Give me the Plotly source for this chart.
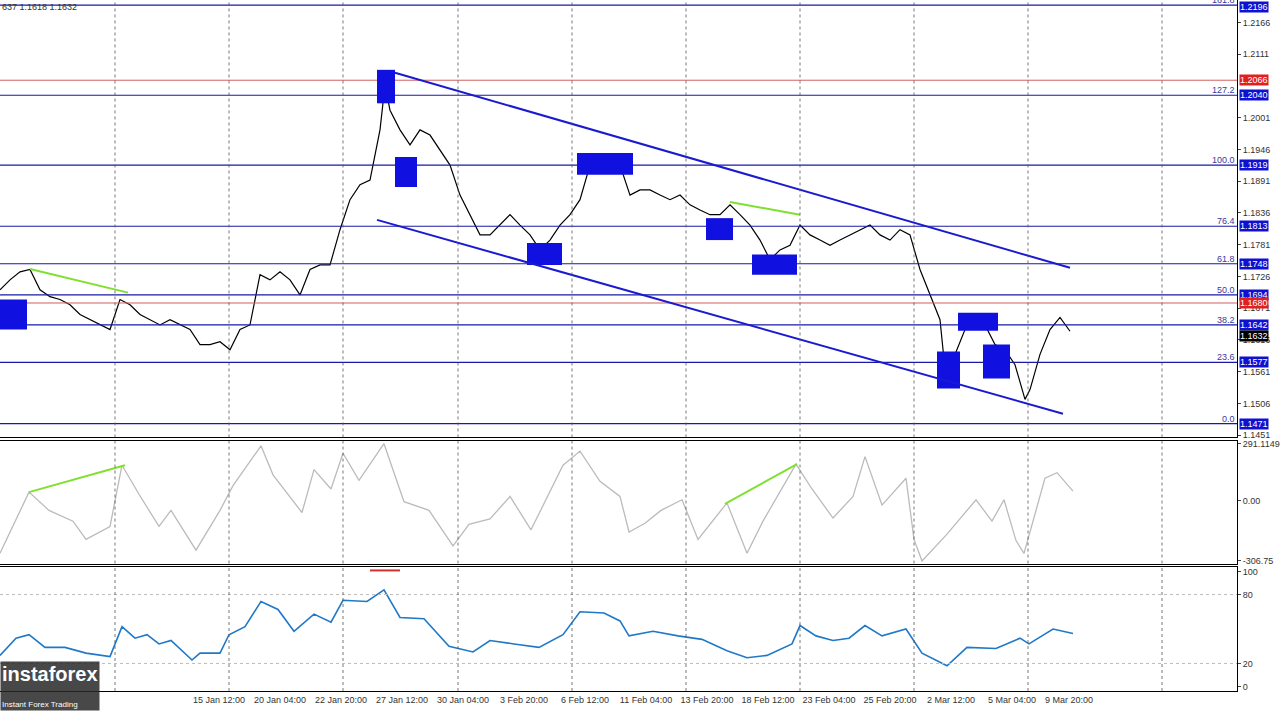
import plotly.graph_objects as go
from plotly.subplots import make_subplots

# ---- price path (time index in bar units, close price) ----
px_t = [0,10,20,30,40,50,60,70,80,90,100,110,120,130,140,150,160,170,180,190,200,210,220,230,240,250,260,270,280,290,300,310,320,330,340,350,360,370,380,385,390,400,410,420,430,440,450,460,470,480,490,500,510,520,530,540,550,560,570,580,590,600,610,620,630,640,650,660,670,680,690,700,710,720,730,740,750,760,770,780,790,800,810,820,830,840,850,860,870,880,890,900,910,920,930,940,945,955,965,975,985,995,1005,1015,1025,1030,1040,1050,1060,1070]
px_v = [1.1703,1.1720,1.1734,1.1738,1.1703,1.1691,1.1686,1.1677,1.1660,1.1651,1.1642,1.1634,1.1686,1.1677,1.1660,1.1651,1.1642,1.1651,1.1642,1.1634,1.1608,1.1608,1.1613,1.1599,1.1634,1.1642,1.1729,1.1720,1.1734,1.1720,1.1694,1.1738,1.1746,1.1746,1.1807,1.1859,1.1885,1.1893,1.1980,1.2058,1.2014,1.1980,1.1954,1.1980,1.1971,1.1945,1.1919,1.1867,1.1833,1.1798,1.1798,1.1815,1.1833,1.1815,1.1798,1.1772,1.1789,1.1815,1.1833,1.1859,1.1919,1.1919,1.1911,1.1919,1.1867,1.1876,1.1876,1.1867,1.1859,1.1867,1.1850,1.1841,1.1833,1.1833,1.1850,1.1833,1.1815,1.1789,1.1755,1.1772,1.1780,1.1815,1.1798,1.1789,1.1780,1.1789,1.1798,1.1807,1.1815,1.1798,1.1789,1.1807,1.1798,1.1738,1.1694,1.1651,1.1565,1.1591,1.1634,1.1651,1.1642,1.1608,1.1599,1.1573,1.1513,1.1530,1.1591,1.1634,1.1655,1.1631]

cci_t = [0,29,49,73,86,110,122,139,159,171,196,220,233,261,273,302,314,331,343,359,384,404,429,453,469,490,510,531,563,580,600,620,629,645,661,682,698,727,747,763,796,812,833,853,865,882,906,914,922,947,976,992,1004,1016,1024,1045,1057,1073]
cci_v = [-268,44,-49,-104,-197,-131,181,33,-131,-49,-252,-49,77,280,132,-60,159,60,242,104,291,-5,-49,-230,-120,-93,22,-148,181,253,99,22,-159,-115,-49,5,-197,-11,-268,-104,187,60,-88,22,225,-22,115,-197,-307,-170,5,-104,5,-203,-268,115,143,49]

st_t = [0,16,29,45,65,86,110,122,135,147,159,171,192,200,220,229,245,261,278,294,314,331,343,367,384,400,424,449,473,490,514,539,563,580,604,620,629,653,678,702,727,747,767,792,800,816,833,849,865,882,906,922,947,967,996,1020,1029,1053,1073]
st_v = [27,42,45,34,34,29,26,52,42,45,37,40,23,29,29,45,52,74,67,48,63,56,75,74,84,60,59,35,30,40,37,34,45,65,64,57,44,48,44,41,31,25,27,37,53,44,40,42,53,44,50,29,18,34,33,42,37,50,46]

fib_levels = [1.1471,1.1577,1.1642,1.1694,1.1748,1.1813,1.1919,1.2040,1.2196]
fib_names = ["0.0","23.6","38.2","50.0","61.8","76.4","100.0","127.2","161.8"]
red_levels = [1.2066,1.1680]
last_price = 1.1632
price_ticks = [1.1451,1.1506,1.1561,1.1616,1.1671,1.1726,1.1781,1.1836,1.1891,1.1946,1.2001,1.2111,1.2166]

boxes = [(0,27,1.1634,1.1686),(377,395,1.2026,1.2084),(395,417,1.1881,1.1933),(577,633,1.1902,1.1940),
         (706,733,1.1789,1.1827),(527,562,1.1746,1.1784),(752,797,1.1729,1.1764),(937,960,1.1532,1.1596),
         (958,998,1.1632,1.1663),(983,1010,1.1549,1.1608)]
channel = [((395,1.2079),(1070,1.1741)),((377,1.1824),(1063,1.1488))]
green_price = [((30,1.1739),(128,1.1698)),((730,1.1855),(800,1.1833))]
green_cci = [((29,44),(125,181)),((725,-16),(797,187))]

sep_t = [115,229,343,458,572,686,800,914,1028,1162]
lab_t = [219,280,341,402,463,524,585,646,707,768,829,890,951,1012,1069]
lab_s = ["15 Jan 12:00","20 Jan 04:00","22 Jan 20:00","27 Jan 12:00","30 Jan 04:00","3 Feb 20:00","6 Feb 12:00",
         "11 Feb 04:00","13 Feb 20:00","18 Feb 12:00","23 Feb 04:00","25 Feb 20:00","2 Mar 12:00","5 Mar 04:00","9 Mar 20:00"]

FONT = "Liberation Sans"
fig = make_subplots(rows=3, cols=1, shared_xaxes=True, vertical_spacing=0.005, row_heights=[0.635,0.178,0.18])
fig.add_trace(go.Scatter(x=px_t, y=px_v, mode="lines", line=dict(color="black", width=1.2)), 1, 1)
fig.add_trace(go.Scatter(x=cci_t, y=cci_v, mode="lines", line=dict(color="#bbbbbb", width=1.3)), 2, 1)
fig.add_trace(go.Scatter(x=st_t, y=st_v, mode="lines", line=dict(color="#1f78c8", width=1.6)), 3, 1)

XR = [0, 1237]
for lv in fib_levels:
    fig.add_shape(type="line", x0=XR[0], x1=XR[1], y0=lv, y1=lv, line=dict(color="#1a1aa6", width=1.2), row=1, col=1)
for lv in red_levels:
    fig.add_shape(type="line", x0=XR[0], x1=XR[1], y0=lv, y1=lv, line=dict(color="#d06060", width=1), row=1, col=1)
for x0, x1, y0, y1 in boxes:
    fig.add_shape(type="rect", x0=x0, x1=x1, y0=y0, y1=y1, fillcolor="#1010e0", line=dict(width=0), row=1, col=1)
for (a, b) in channel:
    fig.add_shape(type="line", x0=a[0], y0=a[1], x1=b[0], y1=b[1], line=dict(color="#1a1ad0", width=2), row=1, col=1)
for (a, b) in green_price:
    fig.add_shape(type="line", x0=a[0], y0=a[1], x1=b[0], y1=b[1], line=dict(color="#80e030", width=2), row=1, col=1)
for (a, b) in green_cci:
    fig.add_shape(type="line", x0=a[0], y0=a[1], x1=b[0], y1=b[1], line=dict(color="#80e030", width=2), row=2, col=1)
fig.add_shape(type="line", x0=370, x1=400, y0=101, y1=101, line=dict(color="#d03030", width=2), row=3, col=1)
for lv in [80, 20]:
    fig.add_shape(type="line", x0=XR[0], x1=XR[1], y0=lv, y1=lv, line=dict(color="#bbbbbb", width=1, dash="dot"), row=3, col=1)
for r in (1, 2, 3):
    for t in sep_t:
        fig.add_vline(x=t, line=dict(color="#555", width=0.8, dash="3px,3px"), row=r, col=1)

for lv, nm in zip(fib_levels, fib_names):
    fig.add_annotation(x=XR[1], y=lv, text=nm, showarrow=False, xanchor="right", yanchor="bottom",
                       font=dict(size=9, color="#3a3aa0", family=FONT), xref="x", yref="y", yshift=-2)
    fig.add_annotation(x=1.0, y=lv, xref="paper", yref="y", text=f"{lv:.4f}", showarrow=False, xanchor="left",
                       bgcolor="#1010d0", font=dict(size=9, color="white", family=FONT), borderpad=0, xshift=2,
                       yshift=-2 if lv > 1.219 else 0)
for lv in red_levels:
    fig.add_annotation(x=1.0, y=lv, xref="paper", yref="y", text=f"{lv:.4f}", showarrow=False, xanchor="left",
                       bgcolor="#e02020", font=dict(size=9, color="white", family=FONT), borderpad=0, xshift=2)
fig.add_annotation(x=1.0, y=last_price, xref="paper", yref="y", text=f"{last_price:.4f}", showarrow=False,
                   xanchor="left", bgcolor="black", font=dict(size=9, color="white", family=FONT), borderpad=0, xshift=2, yshift=-5)
fig.add_annotation(x=0, y=1, xref="paper", yref="paper", text="637 1.1618 1.1632", showarrow=False,
                   xanchor="left", yanchor="top", font=dict(size=9, color="#333", family=FONT))
fig.add_annotation(x=0, y=0, xref="paper", yref="paper",
                   text="<b>instaforex</b><br><span style='font-size:8px'>Instant Forex Trading</span>",
                   showarrow=False, xanchor="left", yanchor="bottom", bgcolor="rgba(40,40,40,0.85)",
                   font=dict(size=20, color="white", family=FONT), yshift=-20, align="left")

ax = dict(showline=True, linecolor="black", mirror=True, showgrid=False, zeroline=False, ticks="outside", ticklen=3,
          tickfont=dict(size=9, family=FONT, color="#333"), side="right", automargin=False)
fig.update_yaxes(**ax)
fig.update_yaxes(range=[1.1447, 1.2205], tickvals=price_ticks, ticktext=[f"{v:.4f}" for v in price_ticks], row=1, col=1)
fig.update_yaxes(range=[-320, 305], tickvals=[-306.75, 0, 291.1149], ticktext=["-306.75", "0.00", "291.1149"], row=2, col=1)
fig.update_yaxes(range=[-4, 104], tickvals=[0, 20, 80, 100], row=3, col=1)
fig.update_xaxes(range=XR, showline=True, linecolor="black", mirror=True, showgrid=False, zeroline=False,
                 showticklabels=False, automargin=False)
fig.update_xaxes(tickvals=lab_t, ticktext=lab_s, showticklabels=True, tickangle=0,
                 tickfont=dict(size=9, family=FONT, color="#333"), ticks="", row=3, col=1)
fig.update_layout(width=1280, height=711, margin=dict(l=0, r=43, t=0, b=20), showlegend=False,
                  plot_bgcolor="white", paper_bgcolor="white")
fig.write_html("out.html", config={"displayModeBar": False},
               post_script="document.body.style.margin='0';document.body.style.overflow='hidden';")
